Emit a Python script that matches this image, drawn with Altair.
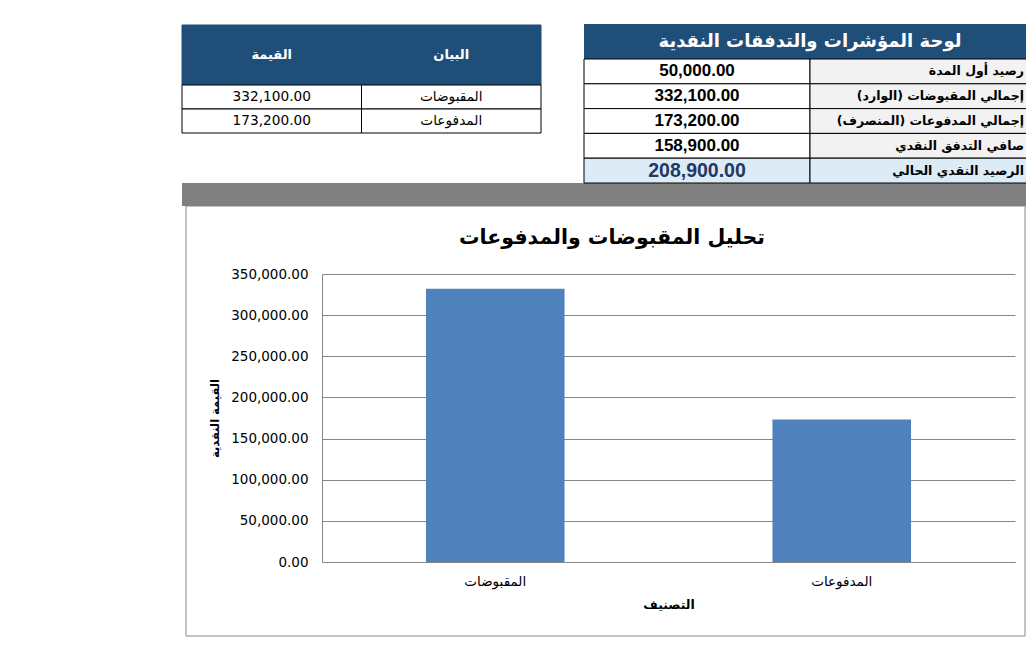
import altair as alt
import pandas as pd

# ---------------- data ----------------
categories = ["المقبوضات", "المدفوعات"]
amounts = [332100, 173200]

left_headers = ["القيمة", "البيان"]          # value column, label column
kpi_title = "لوحة المؤشرات والتدفقات النقدية"
kpi_labels = [
    "رصيد أول المدة",
    "إجمالي المقبوضات (الوارد)\u200f",
    "إجمالي المدفوعات (المنصرف)\u200f",
    "صافي التدفق النقدي",
    "الرصيد النقدي الحالي",
]
kpi_values = [50000, 332100, 173200, 158900, 208900]

y_ticks = [0, 50000, 100000, 150000, 200000, 250000, 300000, 350000]
chart_title = "تحليل المقبوضات والمدفوعات"
x_title = "التصنيف"
y_title = "القيمة النقدية"

# ---------------- layout (pixels relative to plot origin) ----------------
PLOT_W, PLOT_H = 693, 288
AR = "DejaVu Sans"
NUM = "Liberation Sans"
HEAD = "#1F4E79"
GRID = "#868686"


def fmt(v):
    return f"{v:,.2f}"


bars_df = pd.DataFrame({"category": categories, "amount": amounts})

left_head_df = pd.DataFrame({"col": ["value", "label"], "row": ["h", "h"], "text": left_headers})
left_body_df = pd.DataFrame(
    [{"col": "value", "row": i, "text": fmt(a)} for i, a in enumerate(amounts)]
    + [{"col": "label", "row": i, "text": c} for i, c in enumerate(categories)]
)

kpi_head_df = pd.DataFrame({"col": ["all"], "row": ["h"], "text": [kpi_title]})
kpi_body_df = pd.DataFrame(
    [{"col": "value", "row": i, "text": fmt(v)} for i, v in enumerate(kpi_values)]
    + [{"col": "label", "row": i, "text": t} for i, t in enumerate(kpi_labels)]
)
one = pd.DataFrame({"t": [chart_title]})

# ---------------- decorations ----------------
gray_bar = alt.Chart(one).mark_rect(fill="#808080").encode(
    x=alt.value(-140), x2=alt.value(712), y=alt.value(-91), y2=alt.value(-68)
)
box = alt.Chart(one).mark_rect(fillOpacity=0, stroke=GRID, strokeWidth=1).encode(
    x=alt.value(-136), x2=alt.value(703), y=alt.value(-68), y2=alt.value(362)
)
title = alt.Chart(one).mark_text(
    font=AR, fontSize=20.5, fontWeight="bold", color="black", baseline="middle"
).encode(x=alt.value(290), y=alt.value(-36), text="t:N")

# ---------------- bar chart ----------------
bars = alt.Chart(bars_df).mark_bar(color="#4F81BD").encode(
    x=alt.X(
        "category:N",
        sort=categories,
        scale=alt.Scale(paddingInner=0.6, paddingOuter=0.3),
        axis=alt.Axis(
            title=x_title, labelAngle=0, ticks=False, domainColor=GRID,
            labelFont=AR, labelFontSize=13.5, labelColor="black", labelPadding=12,
            titleFont=AR, titleFontSize=12.5, titleFontWeight="bold", titleColor="black",
            titleY=42, titleBaseline="middle",
        ),
    ),
    y=alt.Y(
        "amount:Q",
        scale=alt.Scale(domain=[0, 350000]),
        axis=alt.Axis(
            title=y_title, values=y_ticks, format=",.2f", ticks=False,
            grid=True, gridColor=GRID, domainColor=GRID,
            labelFont=AR, labelFontSize=13.5, labelColor="black", labelPadding=14,
            titleFont=AR, titleFontSize=11.5, titleFontWeight="bold", titleColor="black",
            titleX=-107, titleY=144, titleBaseline="middle", titleAlign="center", titleAngle=-90,
        ),
    ),
)

# ---------------- left table ----------------
lx = alt.X("col:N", scale=alt.Scale(domain=["value", "label"], range=[-140, 219], paddingInner=0, paddingOuter=0), axis=None)
lh_y = alt.Y("row:N", scale=alt.Scale(domain=["h"], range=[-249, -189], paddingInner=0, paddingOuter=0), axis=None)
lb_y = alt.Y("row:O", scale=alt.Scale(domain=[0, 1], range=[-189, -141], paddingInner=0, paddingOuter=0), axis=None)

left_head_rect = alt.Chart(left_head_df).mark_rect(fill=HEAD, stroke=HEAD, strokeWidth=1).encode(x=lx, y=lh_y)
left_head_text = alt.Chart(left_head_df).mark_text(
    font=AR, fontSize=13, fontWeight="bold", color="white"
).encode(x=lx, y=lh_y, text="text:N")
left_body_rect = alt.Chart(left_body_df).mark_rect(fill="white", stroke="black", strokeWidth=1).encode(x=lx, y=lb_y)
left_body_text = alt.Chart(left_body_df).mark_text(
    font=AR, fontSize=13.7, color="black"
).encode(x=lx, y=lb_y, text="text:N")

# ---------------- KPI table ----------------
kh_x = alt.X("col:N", scale=alt.Scale(domain=["all"], range=[262, 714], paddingInner=0, paddingOuter=0), axis=None)
kh_y = alt.Y("row:N", scale=alt.Scale(domain=["h"], range=[-250, -215], paddingInner=0, paddingOuter=0), axis=None)
kx = alt.X("col:N", scale=alt.Scale(domain=["value", "label"], range=[262, 714], paddingInner=0, paddingOuter=0), axis=None)
ky = alt.Y("row:O", scale=alt.Scale(domain=list(range(5)), range=[-215, -91], paddingInner=0, paddingOuter=0), axis=None)

kpi_head_rect = alt.Chart(kpi_head_df).mark_rect(fill=HEAD).encode(x=kh_x, y=kh_y)
kpi_head_text = alt.Chart(kpi_head_df).mark_text(
    font=AR, fontSize=18, fontWeight="bold", color="white"
).encode(x=kh_x, y=kh_y, text="text:N")

kpi_body_rect = alt.Chart(kpi_body_df).transform_calculate(
    kind="datum.row == 4 ? 'total' : (datum.col == 'label' ? 'label' : 'value')"
).mark_rect(stroke="black", strokeWidth=1).encode(
    x=kx, y=ky,
    fill=alt.Fill("kind:N", scale=alt.Scale(domain=["total", "label", "value"], range=["#DDEBF7", "#F2F2F2", "#FFFFFF"]), legend=None),
)
kpi_values_text = alt.Chart(kpi_body_df).transform_filter("datum.col == 'value'").mark_text(
    font=NUM, fontWeight="bold"
).encode(
    x=kx, y=ky, text="text:N",
    color=alt.condition("datum.row == 4", alt.value("#1F3864"), alt.value("black")),
    size=alt.condition("datum.row == 4", alt.value(19.5), alt.value(17)),
)
kpi_labels_text = alt.Chart(kpi_body_df).transform_filter("datum.col == 'label'").mark_text(
    font=AR, fontSize=12.5, fontWeight="bold", color="black", align="right", dx=101
).encode(x=kx, y=ky, text="text:N")

chart = alt.layer(
    box, gray_bar, title, bars,
    left_head_rect, left_head_text, left_body_rect, left_body_text,
    kpi_head_rect, kpi_head_text, kpi_body_rect, kpi_values_text, kpi_labels_text,
).resolve_scale(
    x="independent", y="independent", fill="independent"
).properties(
    width=PLOT_W, height=PLOT_H,
    autosize=alt.AutoSizeParams(type="none"),
    padding={"left": 314, "top": 266, "right": 11, "bottom": 86},
    background="white",
).configure_view(stroke=None)

chart.save("out.html", embed_options={"renderer": "svg", "actions": False})
